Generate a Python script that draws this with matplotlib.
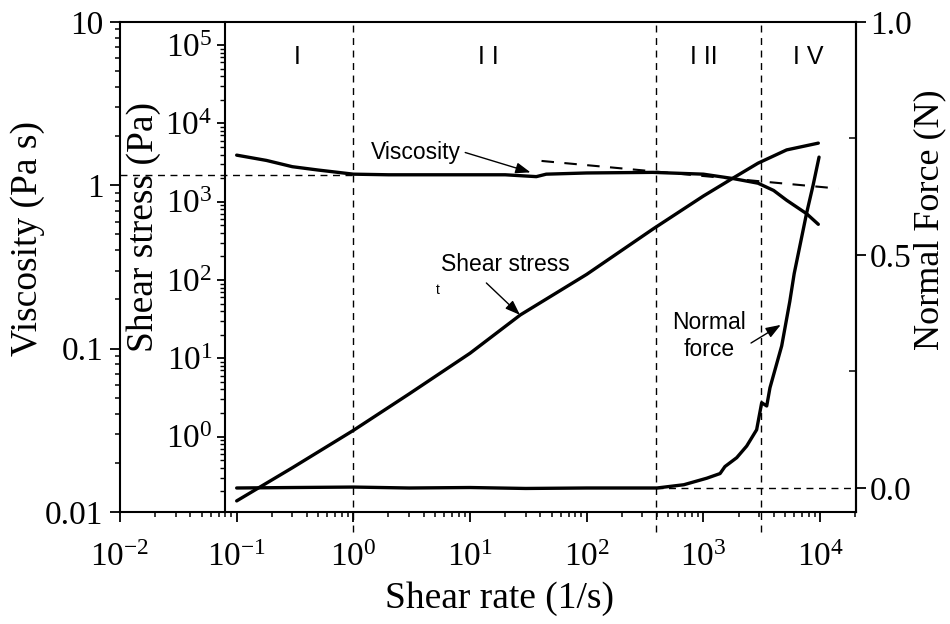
import numpy as np
import matplotlib
matplotlib.use('Agg')
import matplotlib.pyplot as plt
import matplotlib.transforms as mtransforms
from matplotlib.ticker import FixedLocator, FixedFormatter, LogLocator, NullFormatter

# ---- data ----
visc_rate = [0.1, 0.18, 0.3, 0.5, 1, 2, 5, 10, 20, 37, 45, 100, 370, 1000, 1795, 2940, 4000, 5170, 7670, 9660]
visc = [1.53, 1.42, 1.30, 1.24, 1.17, 1.16, 1.16, 1.16, 1.16, 1.13, 1.17, 1.19, 1.20, 1.17, 1.10, 1.03, 0.93, 0.81, 0.67, 0.577]

stress_rate = [0.1, 0.3, 1, 3, 10, 27, 100, 372, 1000, 1795, 2940, 5170, 9660]
stress = [0.151, 0.40, 1.2, 3.5, 11.6, 35.8, 118, 450, 1180, 2000, 3100, 4580, 5590]

force_rate = [0.1, 0.3, 1, 3, 10, 30, 100, 400, 680, 1070, 1390, 1530, 1930, 2350,
              2860, 3160, 3490, 3720, 4690, 5500, 6000, 7670, 8720, 9800]
force = [0.0, 0.001, 0.002, 0.0, 0.001, -0.001, 0.0, 0.0, 0.007, 0.021, 0.031, 0.046, 0.065, 0.09,
         0.125, 0.183, 0.176, 0.215, 0.305, 0.40, 0.46, 0.59, 0.65, 0.71]

region_edges = [1, 390, 3100]
region_names = ['I', 'I I', 'I II', 'I V']
region_pos = [0.33, 14.3, 1000, 7870]

visc_ref = 1.16
visc_trend_rate = [41, 14300]
visc_trend = [1.41, 0.955]
force_zero_from = 390

visc_ticks = [0.01, 0.1, 1, 10]
visc_labels = ['0.01', '0.1', '1', '10']
stress_ticks = [1e0, 1e1, 1e2, 1e3, 1e4, 1e5]
rate_ticks = [1e-2, 1e-1, 1e0, 1e1, 1e2, 1e3, 1e4]
force_ticks = [0.0, 0.5, 1.0]

plt.rcParams['font.family'] = ['Liberation Serif', 'DejaVu Serif']
plt.rcParams['mathtext.fontset'] = 'custom'
plt.rcParams['mathtext.rm'] = 'Liberation Serif'
plt.rcParams['mathtext.it'] = 'Liberation Serif:italic'
plt.rcParams['mathtext.bf'] = 'Liberation Serif:bold'

fig = plt.figure(figsize=(9.5, 6.24), dpi=100)
ax = fig.add_axes([0.1263, 0.1795, 0.7747, 0.7853])

# viscosity axis (outer left)
ax.set_xscale('log')
ax.set_yscale('log')
ax.set_xlim(1e-2, 2.03e4)
ax.set_ylim(0.01, 10)
ax.plot(visc_rate, visc, color='k', lw=2.4, solid_capstyle='round')

ax.yaxis.set_major_locator(FixedLocator(visc_ticks))
ax.yaxis.set_major_formatter(FixedFormatter(visc_labels))
ax.yaxis.set_minor_locator(LogLocator(base=10, subs=np.arange(2, 10), numticks=20))
ax.yaxis.set_minor_formatter(NullFormatter())
ax.xaxis.set_major_locator(FixedLocator(rate_ticks))
ax.xaxis.set_major_formatter(FixedFormatter([r'$10^{%d}$' % round(np.log10(t)) for t in rate_ticks]))
ax.xaxis.set_minor_locator(LogLocator(base=10, subs=np.arange(2, 10), numticks=20))
ax.xaxis.set_minor_formatter(NullFormatter())
ax.tick_params(which='major', direction='out', length=7, width=1.3, labelsize=24)
ax.tick_params(which='minor', direction='out', length=3.5, width=1.1)
ax.tick_params(axis='x', pad=15)
ax.tick_params(axis='y', pad=5)
for s in ax.spines.values():
    s.set_linewidth(1.5)

dash = (0, (5, 4))
for xe in region_edges:
    ax.axvline(xe, ymin=-0.04, ymax=1, color='k', lw=1.0, ls=dash, clip_on=False)
ax.plot([1e-2, region_edges[0]], [visc_ref, visc_ref], color='k', lw=1.0, ls=dash)
ax.plot(visc_trend_rate, visc_trend, color='k', lw=1.5, ls=(0, (6, 5)), clip_on=False)

trans = mtransforms.blended_transform_factory(ax.transData, ax.transAxes)
for name, xp in zip(region_names, region_pos):
    ax.text(xp, 0.9286, name, transform=trans, ha='center', va='center',
            fontsize=18, family='Liberation Sans')

arrow = dict(arrowstyle='-|>,head_length=0.6,head_width=0.22', color='k', lw=1.0,
             mutation_scale=15, shrinkA=1, shrinkB=0)
ax.annotate('Viscosity', xy=(33, 1.2), xytext=(1.42, 1.59), ha='left', va='center',
            fontsize=16.5, family='Liberation Sans',
            arrowprops=dict(arrow, relpos=(1.0, 0.55)))

# shear stress axis (inner left)
ax2 = ax.twinx()
ax2.set_yscale('log')
ax2.set_ylim(0.109, 1.97e5)
ax2.plot(stress_rate, stress, color='k', lw=2.4, solid_capstyle='round')
ax2.spines['right'].set_visible(False)
ax2.spines['top'].set_visible(False)
ax2.spines['bottom'].set_visible(False)
ax2.spines['left'].set_visible(True)
ax2.spines['left'].set_position(('axes', 0.1427))
ax2.spines['left'].set_linewidth(1.5)
ax2.yaxis.set_ticks_position('left')
ax2.yaxis.set_label_position('left')
ax2.yaxis.set_major_locator(FixedLocator(stress_ticks))
ax2.yaxis.set_major_formatter(FixedFormatter([r'$10^{%d}$' % round(np.log10(t)) for t in stress_ticks]))
ax2.yaxis.set_minor_locator(LogLocator(base=10, subs=np.arange(2, 10), numticks=20))
ax2.yaxis.set_minor_formatter(NullFormatter())
ax2.tick_params(which='major', direction='out', length=6, width=1.3, labelsize=24, pad=3)
ax2.tick_params(which='minor', direction='out', length=3.5, width=1.0)

ax2.annotate('Shear stress', xy=(26.8, 35.8), xytext=(20, 156), ha='center', va='center',
             fontsize=16.5, family='Liberation Sans',
             arrowprops=dict(arrow, relpos=(0.3, 0.0), shrinkA=4))
ax2.text(5.25, 74.7, 't', ha='center', va='center', fontsize=10, family='Liberation Sans')

# normal force axis (right)
ax3 = ax.twinx()
ax3.set_ylim(-0.0515, 1.0)
ax3.plot(force_rate, force, color='k', lw=2.4, solid_capstyle='round')
ax3.plot([force_zero_from, 2.03e4], [0, 0], color='k', lw=1.0, ls=dash)
for k in ['left', 'top', 'bottom']:
    ax3.spines[k].set_visible(False)
ax3.spines['right'].set_linewidth(1.5)
ax3.yaxis.set_major_locator(FixedLocator(force_ticks))
ax3.yaxis.set_major_formatter(FixedFormatter(['0.0', '0.5', '1.0']))
ax3.yaxis.set_minor_locator(FixedLocator([0.25, 0.75]))
ax3.tick_params(which='major', direction='out', length=7, width=1.3, labelsize=24, pad=3)
ax3.tick_params(which='minor', direction='in', length=5, width=1.1)

ax3.annotate('Normal\nforce', xy=(4600, 0.35), xytext=(1117, 0.326), ha='center', va='center',
             fontsize=16.5, family='Liberation Sans', linespacing=1.25,
             arrowprops=dict(arrow, relpos=(1.0, 0.3), shrinkA=2))

# axis titles
fig.text(28 / 950, 1 - 238.5 / 624, 'Viscosity (Pa s)', rotation=90, ha='center', va='center', fontsize=27)
fig.text(144 / 950, 1 - 227.5 / 624, 'Shear stress (Pa)', rotation=90, ha='center', va='center', fontsize=27)
fig.text(930 / 950, 1 - 220 / 624, 'Normal Force (N)', rotation=90, ha='center', va='center', fontsize=26)
fig.text(499 / 950, 1 - 599 / 624, 'Shear rate (1/s)', ha='center', va='center', fontsize=27)

fig.savefig('out.png', dpi=100)
